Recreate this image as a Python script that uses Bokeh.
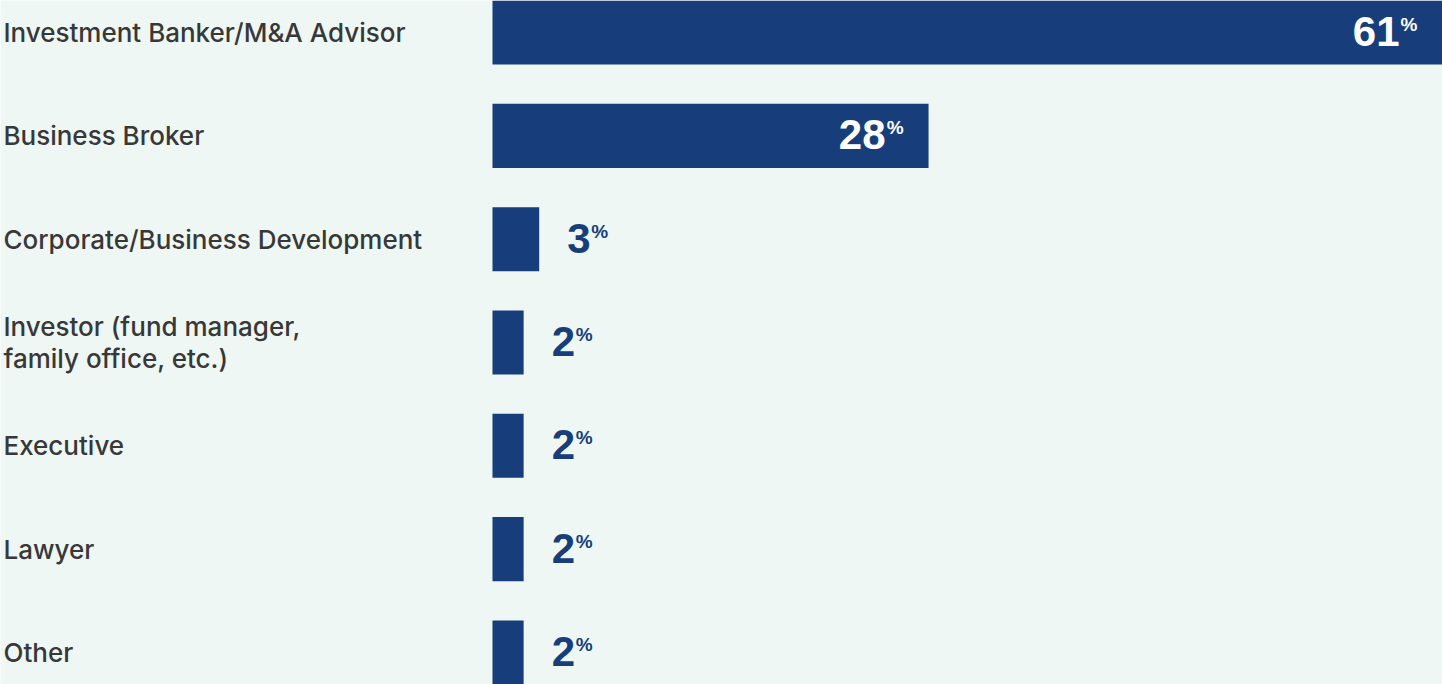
from bokeh.plotting import figure
from bokeh.models import Range1d, ColumnDataSource
from bokeh.core.properties import value
from bokeh.embed import file_html
from bokeh.resources import INLINE

categories = [
    "Investment Banker/M&A Advisor",
    "Business Broker",
    "Corporate/Business Development",
    "Investor (fund manager,\nfamily office, etc.)",
    "Executive",
    "Lawyer",
    "Other",
]
shares = [61, 28, 3, 2, 2, 2, 2]

BG = "#EEF7F3"
NAVY = "#173E7B"
TEXT = "#383838"

n = len(categories)
ys = list(range(n))

p = figure(width=1442, height=684, output_backend="svg", toolbar_location=None,
           x_range=Range1d(-31.59, 61), y_range=Range1d(n - 1 + 0.31, -0.31),
           min_border=0, min_border_left=0, min_border_right=0,
           min_border_top=0, min_border_bottom=0)
p.axis.visible = False
p.grid.visible = False
p.outline_line_color = None
p.background_fill_color = BG
p.border_fill_color = BG

src = ColumnDataSource(dict(y=ys, v=shares, cat=categories))
p.hbar(y="y", left=0, right="v", height=0.62, source=src, fill_color=NAVY, line_color=None)

# category labels
p.text(x=-31.4, y="y", text="cat", source=src, text_font=value("Inter Medium, Inter"),
       text_font_size="26px", text_color=TEXT, text_baseline="middle",
       text_align="left", text_line_height=1.05)

# value labels
inside = [v >= 10 for v in shares]
num_x_off, pct_x_off, num_align, col = [], [], [], []
for v, ins in zip(shares, inside):
    if ins:
        num_x_off.append(-43)
        pct_x_off.append(-25)
        num_align.append("right")
        col.append("white")
    else:
        num_x_off.append(28)
        pct_x_off.append(28 + 25 * len(str(v)) + 16)
        num_align.append("left")
        col.append(NAVY)

vsrc = ColumnDataSource(dict(y=ys, v=shares, t=[str(v) for v in shares],
                             nxo=num_x_off, pxo=pct_x_off, na=num_align, c=col,
                             pct=["%"] * n))
p.text(x="v", y="y", text="t", source=vsrc, x_offset="nxo", y_offset=-1,
       text_align="na", text_baseline="alphabetic", text_color="c",
       text_font=value("Liberation Sans"), text_font_style="bold",
       text_font_size="42px")
p.text(x="v", y="y", text="pct", source=vsrc, x_offset="pxo", y_offset=-8,
       text_align="right", text_baseline="alphabetic", text_color="c",
       text_font=value("Liberation Sans"), text_font_style="bold",
       text_font_size="19px")

open("out.html", "w").write(file_html(p, INLINE))
